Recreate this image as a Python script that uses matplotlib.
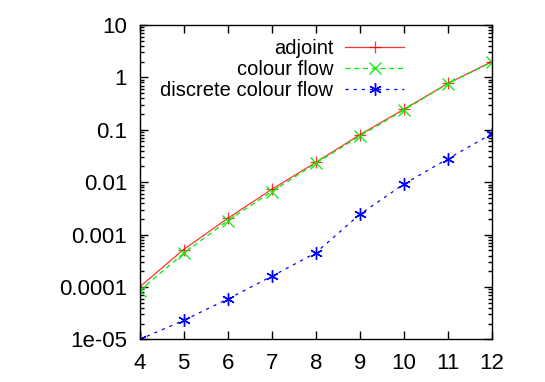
import matplotlib
matplotlib.use("Agg")
import matplotlib.pyplot as plt
from matplotlib.ticker import LogLocator, NullFormatter, FixedLocator

plt.rcParams['font.family'] = ['Liberation Sans', 'DejaVu Sans']

n = [4, 5, 6, 7, 8, 9, 10, 11, 12]
adjoint = [1.0e-4, 5.2e-4, 2.04e-3, 7.3e-3, 0.0239, 0.0807, 0.246, 0.77, 2.0]
colour_flow = [8.5e-5, 4.4e-4, 1.85e-3, 6.6e-3, 0.0229, 0.076, 0.239, 0.76, 1.97]
discrete_colour_flow = [1.0e-5, 2.31e-5, 5.9e-5, 1.6e-4, 4.5e-4, 2.44e-3, 9.2e-3, 0.0281, 0.0843]
ytick_vals = [1e-5, 1e-4, 1e-3, 1e-2, 0.1, 1, 10]
ytick_labels = ['1e-05', '0.0001', '0.001', '0.01', '0.1', '1', '10']

fig = plt.figure(figsize=(5.45, 3.82), dpi=100)
ax = fig.add_axes([0.256, 0.1113, 0.6468, 0.8233])

ax.plot(n, adjoint, color='#ff0000', lw=0.9, marker='+', ms=9, mew=0.9,
        label='adjoint', alpha=0.8)
ax.plot(n, colour_flow, color='#00ee00', lw=0.9, ls=(0, (4, 3)), marker='x', ms=8,
        mew=0.9, label='colour flow')
ax.plot(n, discrete_colour_flow, color='#0000ff', lw=0.9, ls=(0, (2.5, 4)),
        marker=(6, 2, 0), ms=9, mew=1.0, label='discrete colour flow')

ax.set_yscale('log')
ax.set_xlim(4, 12)
ax.set_ylim(1e-5, 10)
ax.set_xticks(n)
ax.set_xticklabels([str(v) for v in n])
ax.yaxis.set_major_locator(FixedLocator(ytick_vals))
ax.set_yticklabels(ytick_labels)
ax.yaxis.set_minor_locator(LogLocator(base=10, subs=range(2, 10), numticks=20))
ax.yaxis.set_minor_formatter(NullFormatter())

ax.tick_params(which='both', direction='in', top=True, right=True, labelsize=16,
               width=1.0, color='black')
ax.tick_params(which='major', length=5.5)
ax.tick_params(which='minor', length=3)
ax.tick_params(axis='x', pad=10)
ax.tick_params(axis='y', pad=9)
for s in ax.spines.values():
    s.set_linewidth(1.0)

leg = ax.legend(loc='upper right', bbox_to_anchor=(0.75, 0.955), frameon=False,
                markerfirst=False, handlelength=2.9, handletextpad=0.6,
                labelspacing=0.1, fontsize=14.5, borderpad=0, borderaxespad=0)

fig.savefig('out.png', dpi=100)
